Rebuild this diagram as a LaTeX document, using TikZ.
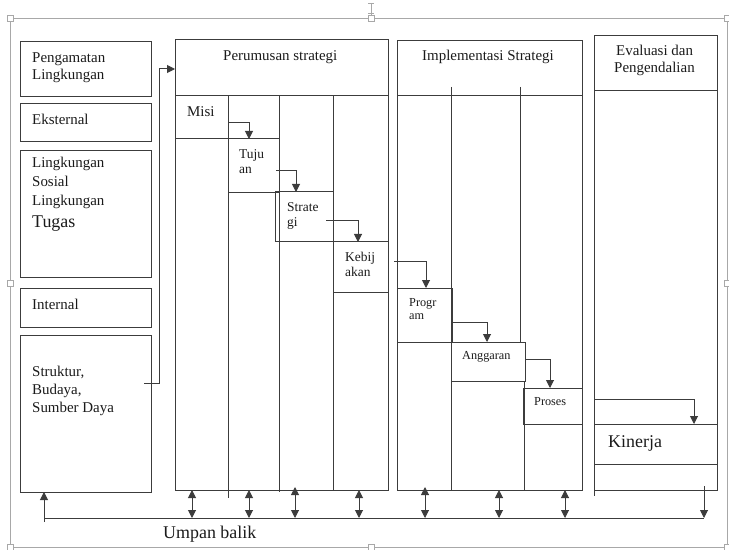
\documentclass[tikz,border=0pt]{standalone}
\usepackage{fontspec}
\setmainfont{Liberation Serif}
\usetikzlibrary{arrows.meta}
\definecolor{linec}{HTML}{3C3C3C}
\definecolor{framec}{HTML}{A8A8A8}
\definecolor{textc}{HTML}{1A1A1A}
\newcommand\mybox[5]{\node[box,minimum width={(#4-#2)*1bp},minimum height={(#5-#3)*1bp}] (#1) at (#2,#3) {};}
\begin{document}
\begin{tikzpicture}[x=1bp,y=-1bp,
 box/.style={draw=linec,line width=1bp,rectangle,inner sep=0pt,outer sep=0pt,anchor=north west},
 ln/.style={draw=linec,line width=1bp},
 arr/.style={draw=linec,line width=1bp,-{Triangle[length=8bp,width=8bp]}},
 darr/.style={draw=linec,line width=1bp,{Triangle[length=8bp,width=8bp]}-{Triangle[length=8bp,width=8bp]}},
 t/.style={anchor=base west,inner sep=0pt,text=textc,font=\fontsize{15}{17}\selectfont},
 ts/.style={t,font=\fontsize{13.5}{15}\selectfont},
 tt/.style={t,font=\fontsize{12.3}{14}\selectfont},
 tb/.style={t,font=\fontsize{18}{20}\selectfont},
 frm/.style={draw=framec,line width=0.8bp},
 hdl/.style={draw=framec,fill=white,line width=0.8bp,minimum size=6bp,inner sep=0pt,rectangle}
]
\useasboundingbox (0,0) rectangle (729,550);
% selection frame
\draw[frm] (10,18.5) rectangle (727,547);
\draw[frm] (368,3) -- (374,3) (371,3) -- (371,16) (368,13) -- (374,13);
\foreach \hx/\hy [count=\i] in {10/18.5,371/18.5,727/18.5,10/283,727/283,10/547,371/547,727/547}
  \node[hdl] (h\i) at (\hx,\hy) {};

% left column
\mybox{png}{20}{42}{151}{97}
\mybox{eks}{20}{104}{151}{142}
\mybox{lsos}{20}{151}{151}{277}
\mybox{int}{20}{288}{151}{327}
\mybox{str}{20}{335}{151}{492}
\node[t] (t1) at (32,63) {Pengamatan};
\node[t] (t2) at (32,80) {Lingkungan};
\node[t] (t3) at (32,125) {Eksternal};
\node[t] (t4) at (32,168) {Lingkungan};
\node[t] (t5) at (32,187) {Sosial};
\node[t] (t6) at (32,206) {Lingkungan};
\node[tb] (t7) at (32,228) {Tugas};
\node[t] (t8) at (32,309) {Internal};
\node[t] (t9) at (32,376) {Struktur,};
\node[t] (t10) at (32,394) {Budaya,};
\node[t] (t11) at (32,412) {Sumber Daya};

% Perumusan strategi
\mybox{perb}{175}{96}{388}{490}
\mybox{per}{175}{40}{388}{96}
\draw[ln] (228,96) -- (228,498) (279,96) -- (279,492) (333,96) -- (333,490);
\mybox{misi}{175}{96}{228}{139}
\mybox{tuj}{228}{139}{279}{193}
\mybox{stra}{275}{192}{333}{242}
\mybox{keb}{333}{242}{388}{292}
\node[t] (tp) at (223,61) {Perumusan strategi};
\node[t] (tm) at (187,117) {Misi};
\node[ts] (tj1) at (239,159) {Tuju};
\node[ts] (tj2) at (239,174) {an};
\node[ts] (ts1) at (287,212) {Strate};
\node[ts] (ts2) at (287,227) {gi};
\node[ts] (tk1) at (345,262) {Kebij};
\node[ts] (tk2) at (345,277) {akan};

% Implementasi Strategi
\mybox{impb}{397}{96}{582}{490}
\mybox{imp}{397}{41}{582}{96}
\draw[ln] (451,87) -- (451,490) (520,87) -- (520,342) (524,381) -- (524,490);
\mybox{prog}{397}{288}{452}{342}
\mybox{ang}{451}{342}{525}{381}
\mybox{pros}{523}{388}{582}{424}
\node[t] (ti) at (422,61) {Implementasi Strategi};
\node[tt] (tg1) at (409,306) {Progr};
\node[tt] (tg2) at (409,319) {am};
\node[tt] (ta) at (462,359) {Anggaran};
\node[tt] (tr) at (534,405) {Proses};

% Evaluasi dan Pengendalian
\mybox{evab}{594}{91}{717}{490}
\mybox{eva}{594}{36}{717}{91}
\draw[ln] (594,490) -- (594,496);
\mybox{kin}{594}{424}{717}{464}
\node[t] (te1) at (616,56) {Evaluasi dan};
\node[t] (te2) at (614,73) {Pengendalian};
\node[tb] (tki) at (608,447) {Kinerja};

% flow arrows
\coordinate (s0) at (144,383);
\draw[arr] (s0) -- (159,383) -- (159,69) -- (per.west |- 0,69);
\draw[arr] (misi.east |- 0,123) -| (tuj.north -| 249,0);
\coordinate (j0) at (276,171);
\draw[arr] (j0) -| (stra.north -| 296,0);
\coordinate (g0) at (326,221);
\draw[arr] (g0) -| (keb.north -| 358,0);
\coordinate (k0) at (394,262);
\draw[arr] (k0) -| (prog.north -| 426,0);
\draw[arr] (prog.east |- 0,322) -| (ang.north -| 487,0);
\draw[arr] (ang.east |- 0,359) -| (pros.north -| 550,0);
\draw[arr] (evab.west |- 0,399) -| (kin.north -| 694,0);

% feedback
\coordinate (fbL) at (44,518);
\coordinate (fbR) at (704,518);
\draw[ln] (fbL) -- (fbR);
\draw[arr] (44,522) -- (str.south -| fbL);
\foreach \x in {192,249,359} \draw[darr] (perb.south -| \x,0) -- (\x,518);
\draw[darr] (295,487) -- (295,518);
\draw[darr] (425,487) -- (425,518);
\foreach \x in {499,565} \draw[darr] (impb.south -| \x,0) -- (\x,518);
\coordinate (r0) at (704,486);
\draw[arr] (r0) -- (fbR);
\node[tb] (tu) at (163,538) {Umpan balik};
\end{tikzpicture}
\end{document}
